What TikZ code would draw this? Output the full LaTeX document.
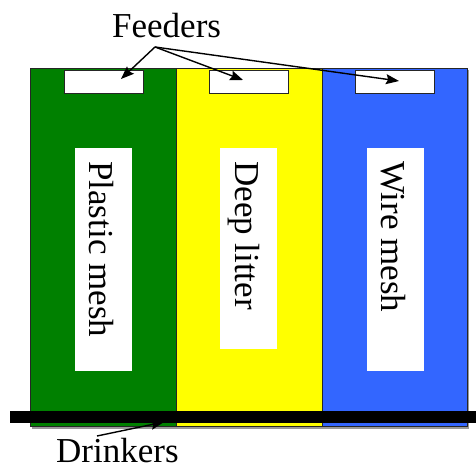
\documentclass[tikz,border=0pt]{standalone}
\usepackage{fontspec}
\setmainfont{Liberation Serif}
\usetikzlibrary{arrows.meta}
\definecolor{pengreen}{RGB}{0,128,0}
\definecolor{penyellow}{RGB}{255,255,0}
\definecolor{penblue}{RGB}{51,102,255}
\tikzset{
  pen/.style={draw=black!85, line width=0.9pt},
  feederbox/.style={draw=black!85, line width=0.9pt, fill=white},
  labelbox/.style={fill=white, draw=none},
  bigtext/.style={font=\fontsize{35}{40}\selectfont, inner sep=0pt},
  sidetext/.style={bigtext, rotate=-90, anchor=base west},
  pointer/.style={line width=1.4pt, -{Stealth[length=13pt,width=10pt,inset=2pt]}}
}
\begin{document}
\begin{tikzpicture}[x=1pt,y=1pt]
  \useasboundingbox (0,0) rectangle (476,469);

  % soft shadow under the three pens
  \fill[black!40] (31.5,40.5) rectangle (468.5,398.5);

  % the three pens
  \node[pen, fill=pengreen, minimum width=146pt, minimum height=358pt, inner sep=0pt, anchor=south west] (p1) at (30,42) {};
  \node[pen, fill=penyellow, minimum width=146pt, minimum height=358pt, inner sep=0pt, anchor=south west] (p2) at (176,42) {};
  \node[pen, fill=penblue, minimum width=145pt, minimum height=358pt, inner sep=0pt, anchor=south west] (p3) at (322,42) {};

  % feeders along the top
  \node[feederbox, minimum width=79pt, minimum height=23pt, inner sep=0pt, anchor=north west] (f1) at (64,399) {};
  \node[feederbox, minimum width=79pt, minimum height=23pt, inner sep=0pt, anchor=north west] (f2) at (209,399) {};
  \node[feederbox, minimum width=79pt, minimum height=23pt, inner sep=0pt, anchor=north west] (f3) at (355,399) {};

  % floor type labels
  \node[labelbox, minimum width=57pt, minimum height=223pt, inner sep=0pt, anchor=north west] (l1) at (75,321) {};
  \node[labelbox, minimum width=57pt, minimum height=201pt, inner sep=0pt, anchor=north west] (l2) at (220,321) {};
  \node[labelbox, minimum width=57pt, minimum height=223pt, inner sep=0pt, anchor=north west] (l3) at (367,321) {};
  \node[sidetext] (t1) at (89,308) {Plastic mesh};
  \node[sidetext] (t2) at (235,308) {Deep litter};
  \node[sidetext] (t3) at (381,308) {Wire mesh};

  % feeder callout
  \node[bigtext, anchor=base west] (feeders) at (112,431) {Feeders};
  \coordinate (fsrc) at (155,422);
  \coordinate (f1tip) at (121,390);
  \coordinate (f2tip) at (243,389);
  \coordinate (f3tip) at (399,388);
  \draw[pointer] (fsrc) -- (f1tip);
  \draw[pointer] (fsrc) -- (f2tip);
  \draw[pointer] (fsrc) -- (f3tip);

  % drinker line
  \node[fill=black, minimum width=466pt, minimum height=12pt, inner sep=0pt, anchor=south west] (bar) at (10,46) {};

  % drinker callout
  \node[bigtext, anchor=base west] (drinkers) at (56,7) {Drinkers};
  \coordinate (dsrc) at (97,33);
  \coordinate (dtip) at (164,47);
  \draw[pointer] (dsrc) -- (dtip);
\end{tikzpicture}
\end{document}
